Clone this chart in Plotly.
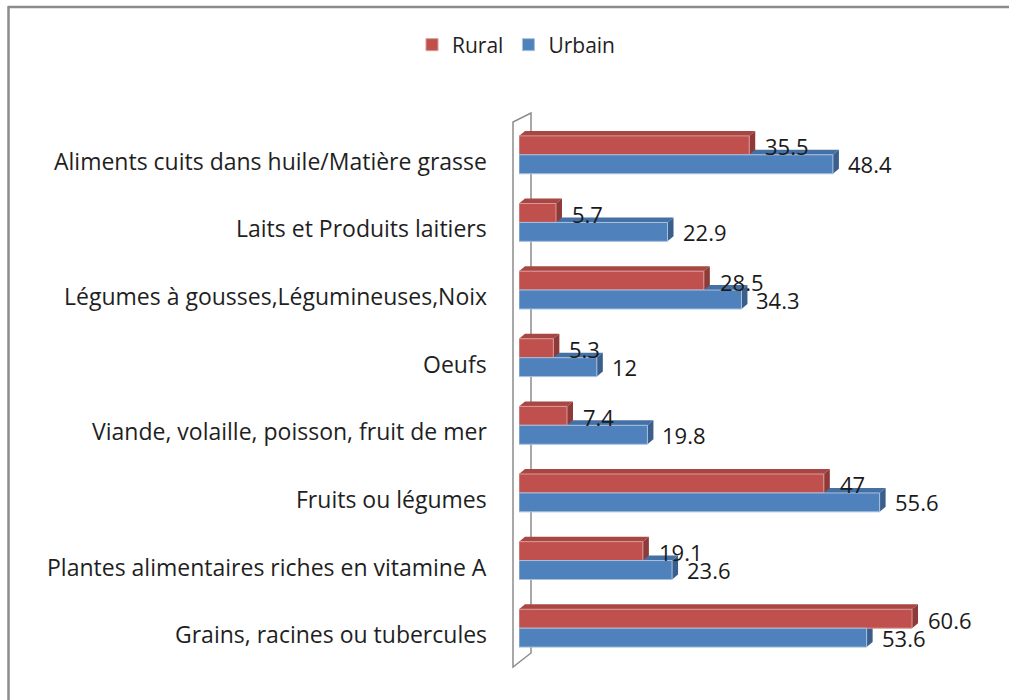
import plotly.graph_objects as go

categories = [
    "Grains, racines ou tubercules",
    "Plantes alimentaires riches en vitamine A",
    "Fruits ou légumes",
    "Viande, volaille, poisson, fruit de mer",
    "Oeufs",
    "Légumes à gousses,Légumineuses,Noix",
    "Laits et Produits laitiers",
    "Aliments cuits dans huile/Matière grasse",
]
rural = [60.6, 19.1, 47, 7.4, 5.3, 28.5, 5.7, 35.5]
urbain = [53.6, 23.6, 55.6, 19.8, 12, 34.3, 22.9, 48.4]

W, H = 1009, 700
L, R, T, B = 519, 36, 121, 38
PW, PH = W - L - R, H - T - B
XMAX = 70

def px_x(p):
    return (p - L) / PW

def px_y(p):
    return (H - B - p) / PH

RED, BLUE = "#C0504D", "#4F81BD"
RED_SIDE, BLUE_SIDE = "#8E3A38", "#3A5F8C"
RED_TOP, BLUE_TOP = "#A84643", "#4470A3"
BW = 0.28
DX = 6 * XMAX / PW
DY = 5 * 8 / PH

pos = list(range(len(categories)))

fig = go.Figure()
fig.add_trace(go.Bar(
    y=pos, x=rural, orientation="h", name="Rural", width=BW, offset=0,
    marker=dict(color=RED, line=dict(color="#D99A98", width=1)),
))
fig.add_trace(go.Bar(
    y=pos, x=urbain, orientation="h", name="Urbain", width=BW, offset=-BW,
    marker=dict(color=BLUE, line=dict(color="#A9C0DD", width=1)),
))

shapes = []
def faces(v, yb, yt, top, side):
    shapes.append(dict(type="path", xref="x", yref="y", layer="below",
                       path=f"M 0,{yt} L {DX},{yt+DY} L {v+DX},{yt+DY} L {v},{yt} Z",
                       fillcolor=top, line=dict(width=0)))
    shapes.append(dict(type="path", xref="x", yref="y", layer="below",
                       path=f"M {v},{yb} L {v},{yt} L {v+DX},{yt+DY} L {v+DX},{yb+DY} Z",
                       fillcolor=side, line=dict(width=0)))

for p, v in zip(pos, urbain):
    faces(v, p - BW, p, BLUE_TOP, BLUE_SIDE)
for p, v in zip(pos, rural):
    faces(v, p, p + BW, RED_TOP, RED_SIDE)

# 3D wall
wall = (f"M {px_x(513)},{px_y(122)} L {px_x(513)},{px_y(667)} L {px_x(531)},{px_y(653)} "
        f"L {px_x(531)},{px_y(113)} Z")
shapes.append(dict(type="path", xref="paper", yref="paper", path=wall,
                   line=dict(color="#8C8C8C", width=1.5), layer="below"))
# outer border (top and left edges; the rest lies outside the picture)
shapes.append(dict(type="line", xref="paper", yref="paper",
                   x0=px_x(8), x1=px_x(1012), y0=px_y(7), y1=px_y(7),
                   line=dict(color="#8C8C8C", width=2.5)))
shapes.append(dict(type="line", xref="paper", yref="paper",
                   x0=px_x(8.5), x1=px_x(8.5), y0=px_y(6), y1=px_y(702),
                   line=dict(color="#8C8C8C", width=2.5)))

annotations = []
for p, c in zip(pos, categories):
    annotations.append(dict(x=px_x(489), y=p, xref="paper", yref="y", text=c,
                            showarrow=False, xanchor="right", yanchor="middle", yshift=-6,
                            font=dict(size=23, color="#1F1F1F")))
for p, v in zip(pos, rural):
    annotations.append(dict(x=v, y=p + BW / 2, xref="x", yref="y", text=f"{v:g}",
                            showarrow=False, xanchor="left", yanchor="middle", xshift=14, yshift=-1,
                            font=dict(size=22, color="#1A1A1A")))
for p, v in zip(pos, urbain):
    annotations.append(dict(x=v, y=p - BW / 2, xref="x", yref="y", text=f"{v:g}",
                            showarrow=False, xanchor="left", yanchor="middle", xshift=13,
                            font=dict(size=22, color="#1A1A1A")))

fig.update_layout(
    width=W, height=H,
    margin=dict(l=L, r=R, t=T, b=B, pad=0),
    paper_bgcolor="white", plot_bgcolor="white",
    barmode="overlay",
    font=dict(family="Open Sans", size=19, color="#1F1F1F"),
    showlegend=True,
    legend=dict(orientation="h", x=px_x(516), xanchor="center", y=px_y(45), yanchor="middle",
                font=dict(size=21, color="#1F1F1F"), itemwidth=30, bgcolor="rgba(0,0,0,0)"),
    xaxis=dict(range=[0, XMAX], visible=False, fixedrange=True),
    yaxis=dict(range=[-0.5, len(categories) - 0.5], showticklabels=False,
               showgrid=False, zeroline=False, showline=False, ticks="", fixedrange=True),
    shapes=shapes,
    annotations=annotations,
)

fig.write_html("out.html", config={"displayModeBar": False},
               post_script="document.body.style.margin='0';document.body.style.overflow='hidden';document.documentElement.style.overflow='hidden';")
